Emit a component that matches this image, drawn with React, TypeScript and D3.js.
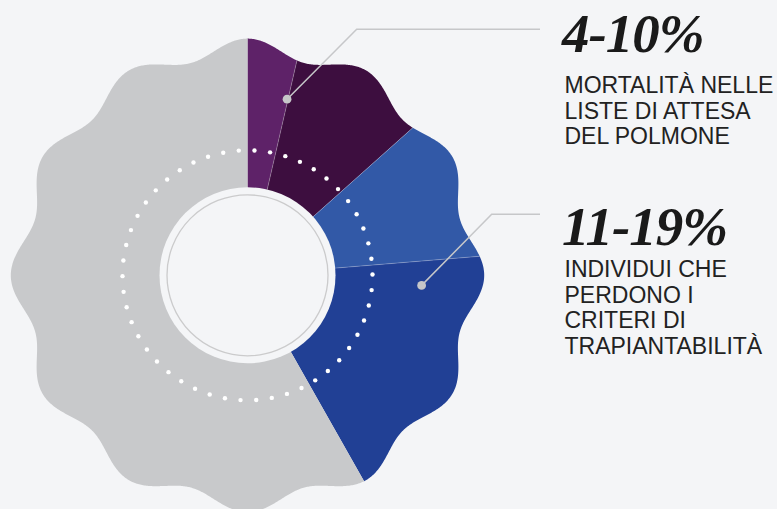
import React from "react";
import * as d3 from "d3";

// ---- data ----
const categories = ["Mortalità (min)", "Mortalità (max)", "Criteri (min)", "Criteri (max)", "Altro"];
const values = [3.6, 9.8, 10.3, 18.1, 58.2];
const colors = ["#5e2268", "#3d0e3f", "#3259a7", "#214095", "#c8c9cb"];
const headlines = ["4-10%", "11-19%"];
const descriptions = [
  ["MORTALITÀ NELLE", "LISTE DI ATTESA", "DEL POLMONE"],
  ["INDIVIDUI CHE", "PERDONO I", "CRITERI DI", "TRAPIANTABILITÀ"],
];

const W = 777;
const H = 509;
const BG = "#f4f5f7";

export default function App() {
  const cx = 247.5;
  const cy = 275.3;
  const R0 = 228.2;
  const A = 8.5;
  const lobes = 12;
  const innerR = 88;
  const ringR = 80.5;
  const dotR = 125;
  const nDots = 50;

  const waveR = (a: number) => R0 + A * Math.cos(lobes * a);

  const pie = d3.pie<number>().sort(null).value((d) => d);
  const arcs = pie(values);

  const radial = d3
    .lineRadial<[number, number]>()
    .angle((d) => d[0])
    .radius((d) => d[1])
    .curve(d3.curveLinearClosed);

  const segPath = (a0: number, a1: number) => {
    const n = Math.max(4, Math.ceil(((a1 - a0) / (2 * Math.PI)) * 1440));
    const pts: [number, number][] = [[a0, 0]];
    for (let i = 0; i <= n; i++) {
      const a = a0 + ((a1 - a0) * i) / n;
      pts.push([a, waveR(a)]);
    }
    return radial(pts) as string;
  };

  const polar = (a: number, r: number): [number, number] => [
    cx + r * Math.sin(a),
    cy - r * Math.cos(a),
  ];

  // internal boundaries between coloured segments
  const boundaries = arcs.slice(0, 3).map((d) => d.endAngle);

  const dotStep = (2 * Math.PI) / nDots;
  const dotOffset = (3.2 * Math.PI) / 180;
  const dots = d3.range(nDots).map((i) => polar(dotOffset + i * dotStep, dotR));

  // callout anchors (polar, on the chart)
  const deg = Math.PI / 180;
  const anchor1 = polar(arcs[0].endAngle - 0.3 * deg, 180.5);
  const anchor2 = polar(arcs[3].startAngle + 8 * deg, 174.4);
  const elbows: [number, number][] = [
    [356.7, 29.3],
    [491.7, 214.3],
  ];
  const anchors = [anchor1, anchor2];
  const lineEndX = 540;
  const textX = 562;
  const headBase = [51.7, 245];
  const bodyFirst = [93, 277];
  const lineGap = 25.7;

  return (
    <svg
      width={W}
      height={H}
      style={{ position: "absolute", left: 0, top: 0, display: "block" }}
    >
      <rect x={0} y={0} width={W} height={H} fill={BG} />
      <g transform={`translate(${cx},${cy})`}>
        {arcs.map((d, i) => (
          <path key={categories[i]} d={segPath(d.startAngle, d.endAngle)} fill={colors[i]} />
        ))}
      </g>
      {boundaries.map((a, i) => {
        const p0 = polar(a, innerR);
        const p1 = polar(a, waveR(a));
        return (
          <line
            key={i}
            x1={p0[0]}
            y1={p0[1]}
            x2={p1[0]}
            y2={p1[1]}
            stroke="rgba(255,255,255,0.3)"
            strokeWidth={0.8}
          />
        );
      })}
      {dots.map((p, i) => (
        <circle key={i} cx={p[0]} cy={p[1]} r={2.2} fill="#ffffff" />
      ))}
      <circle cx={cx} cy={cy} r={innerR} fill={BG} />
      <circle cx={cx} cy={cy} r={ringR} fill="none" stroke="#cbcbcc" strokeWidth={1.3} />

      {anchors.map((p, i) => (
        <g key={i}>
          <polyline
            points={`${p[0]},${p[1]} ${elbows[i][0]},${elbows[i][1]} ${lineEndX},${elbows[i][1]}`}
            fill="none"
            stroke="#c6c7c9"
            strokeWidth={1.5}
          />
          <circle cx={p[0]} cy={p[1]} r={4.4} fill="#c6c7c9" />
        </g>
      ))}

      {headlines.map((h, i) => (
        <g key={h}>
          <text
            x={textX}
            y={headBase[i]}
            fontFamily="'Liberation Serif', serif"
            fontWeight="bold"
            fontStyle="italic"
            fontSize={55}
            letterSpacing={-1}
            fill="#1a1a1a"
          >
            {h}
          </text>
          {descriptions[i].map((t, j) => (
            <text
              key={t}
              x={textX + 2.5}
              y={bodyFirst[i] + j * lineGap}
              fontFamily="'Liberation Sans', Arial, sans-serif"
              fontSize={23}
              fill="#222222"
            >
              {t}
            </text>
          ))}
        </g>
      ))}
    </svg>
  );
}
